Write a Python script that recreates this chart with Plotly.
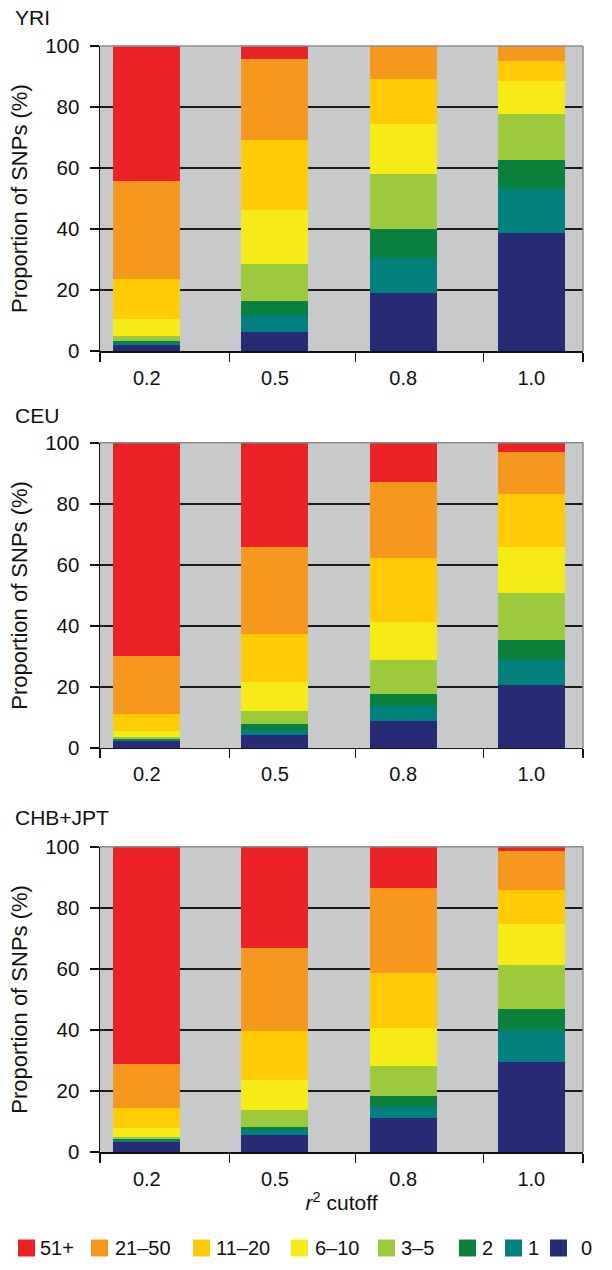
import plotly.graph_objects as go

# ---- data (percent of SNPs) ----
categories = ["0.2", "0.5", "0.8", "1.0"]          # r^2 cutoff
bins = ["0", "1", "2", "3–5", "6–10", "11–20", "21–50", "51+"]
populations = ["YRI", "CEU", "CHB+JPT"]

# YRI
yri_0 = [1.9, 6.4, 19.2, 38.6]
yri_1 = [0.8, 5.4, 11.3, 14.6]
yri_2 = [0.6, 4.6, 9.4, 9.3]
yri_3_5 = [1.6, 12.2, 18.0, 15.3]
yri_6_10 = [5.5, 17.8, 16.6, 10.7]
yri_11_20 = [13.4, 22.8, 14.6, 6.6]
yri_21_50 = [31.9, 26.6, 10.9, 4.9]
yri_51 = [44.3, 4.2, 0.0, 0.0]

# CEU
ceu_0 = [2.4, 4.3, 9.0, 20.8]
ceu_1 = [0.3, 1.5, 4.6, 7.9]
ceu_2 = [0.2, 1.9, 4.0, 6.8]
ceu_3_5 = [0.6, 4.4, 11.1, 15.2]
ceu_6_10 = [2.2, 9.4, 12.6, 15.3]
ceu_11_20 = [5.3, 16.0, 20.8, 17.2]
ceu_21_50 = [19.1, 28.4, 25.1, 13.7]
ceu_51 = [69.9, 34.1, 12.8, 3.1]

# CHB+JPT
chb_0 = [3.4, 5.7, 11.0, 29.6]
chb_1 = [0.4, 1.4, 3.8, 10.5]
chb_2 = [0.3, 1.2, 3.5, 6.7]
chb_3_5 = [0.8, 5.4, 9.9, 14.5]
chb_6_10 = [2.9, 9.8, 12.6, 13.3]
chb_11_20 = [6.5, 16.0, 17.9, 11.4]
chb_21_50 = [14.6, 27.2, 27.9, 12.6]
chb_51 = [71.1, 33.3, 13.4, 1.4]

series = [
    [yri_0, yri_1, yri_2, yri_3_5, yri_6_10, yri_11_20, yri_21_50, yri_51],
    [ceu_0, ceu_1, ceu_2, ceu_3_5, ceu_6_10, ceu_11_20, ceu_21_50, ceu_51],
    [chb_0, chb_1, chb_2, chb_3_5, chb_6_10, chb_11_20, chb_21_50, chb_51],
]

# ---- styling ----
colors = ["#272A74", "#01807E", "#0B8140", "#9CCA3C",
          "#F6EB16", "#FFCB05", "#F6981E", "#EC2227"]
FONT = "Liberation Sans, Arial, Helvetica, sans-serif"
BG = "#C8C9CB"
W, H = 612, 1270
ML, MR, MT, MB = 100, 29, 46, 118
PW, PH = W - ML - MR, H - MT - MB
domains = [[0.7241, 1.0], [0.3653, 0.6412], [0.0, 0.2759]]
title_y = [1.0258, 0.666, 0.3024]
xpos = list(range(len(categories)))
xrange = [-0.365, 3.403]
xbounds = [-0.364, 0.644, 1.628, 2.627, 3.402]

# legend layout (pixels): swatch left edges and label left edges, legend order top->bottom
legend_sq_px = [18, 91, 193, 291, 378, 459, 505, 550]
legend_tx_px = [38, 113, 214, 313, 399, 480, 526, 579]
legend_y_px = 1248
SQ = 17


def px_x(px):
    return (px - ML) / PW


def px_y(py):
    return (H - MB - py) / PH


fig = go.Figure()
for p, pop in enumerate(populations):
    xa = "x" if p == 0 else f"x{p+1}"
    ya = "y" if p == 0 else f"y{p+1}"
    for b, name in enumerate(bins):
        fig.add_trace(go.Bar(
            x=xpos, y=series[p][b], name=name,
            marker=dict(color=colors[b], line=dict(width=0)),
            width=0.523, xaxis=xa, yaxis=ya,
            legendgroup=name, showlegend=False,
            hoverinfo="skip",
        ))

layout = dict(
    width=W, height=H,
    margin=dict(l=ML, r=MR, t=MT, b=MB, autoexpand=False),
    paper_bgcolor="white",
    plot_bgcolor=BG,
    barmode="stack",
    bargap=0,
    showlegend=False,
    font=dict(family=FONT, size=20, color="#111"),
    annotations=[],
    shapes=[],
)

for p, pop in enumerate(populations):
    xk = "xaxis" if p == 0 else f"xaxis{p+1}"
    yk = "yaxis" if p == 0 else f"yaxis{p+1}"
    xa = "x" if p == 0 else f"x{p+1}"
    ya = "y" if p == 0 else f"y{p+1}"
    layout[xk] = dict(
        domain=[0, 1], anchor=ya, range=xrange, fixedrange=True,
        tickmode="array", tickvals=xpos, ticktext=categories,
        ticks="", showgrid=False, zeroline=False, automargin=False,
        showline=True, linecolor="#111", linewidth=1.5,
        tickfont=dict(size=20, family=FONT, color="#111"),
        ticklabelstandoff=8,
        minor=dict(tickmode="array", tickvals=xbounds, ticks="outside",
                   ticklen=9, tickwidth=1.5, tickcolor="#111", showgrid=False),
    )
    if p == 2:
        layout[xk]["title"] = dict(text="<i>r</i><sup>2</sup> cutoff",
                                   font=dict(size=21, family=FONT, color="#111"),
                                   standoff=7)
    layout[yk] = dict(
        domain=domains[p], anchor=xa, range=[0, 100], fixedrange=True,
        tickmode="array", tickvals=[0, 20, 40, 60, 80, 100],
        ticks="outside", ticklen=9, tickwidth=1.5, tickcolor="#111",
        showline=True, linecolor="#111", linewidth=1.5, automargin=False,
        showgrid=True, gridcolor="#1a1a1a", gridwidth=1.5, zeroline=False,
        tickfont=dict(size=20.5, family=FONT, color="#111"),
        ticklabelstandoff=6,
        title=dict(text="Proportion of SNPs (%)",
                   font=dict(size=22, family=FONT, color="#111"), standoff=11),
    )
    layout["annotations"].append(dict(
        text=pop, xref="paper", yref="paper", x=px_x(13), y=title_y[p],
        xanchor="left", yanchor="middle", showarrow=False,
        font=dict(size=21, family=FONT, color="#111")))
    # light grey frame on top and right of each panel
    layout["shapes"].append(dict(type="line", xref=f"{xa} domain", yref=f"{ya} domain",
                                 x0=0, x1=1, y0=1, y1=1,
                                 line=dict(color="#8C8C8C", width=1.5), layer="above"))
    layout["shapes"].append(dict(type="line", xref=f"{xa} domain", yref=f"{ya} domain",
                                 x0=1, x1=1, y0=0, y1=1,
                                 line=dict(color="#8C8C8C", width=1.5), layer="above"))

# legend (top of stack first): colour swatches + labels
for i, b in enumerate(reversed(range(len(bins)))):
    sx = legend_sq_px[i]
    layout["shapes"].append(dict(
        type="rect", xref="paper", yref="paper",
        x0=px_x(sx), x1=px_x(sx + SQ),
        y0=px_y(legend_y_px + SQ / 2), y1=px_y(legend_y_px - SQ / 2),
        fillcolor=colors[b], line=dict(width=0), layer="above"))
    layout["annotations"].append(dict(
        text=bins[b], xref="paper", yref="paper",
        x=px_x(legend_tx_px[i]), y=px_y(legend_y_px),
        xanchor="left", yanchor="middle", showarrow=False,
        font=dict(size=20, family=FONT, color="#111")))

fig.update_layout(**layout)
fig.write_html("out.html",
               config={"displayModeBar": False, "staticPlot": True},
               post_script="document.body.style.margin='0';document.body.style.overflow='hidden';")
